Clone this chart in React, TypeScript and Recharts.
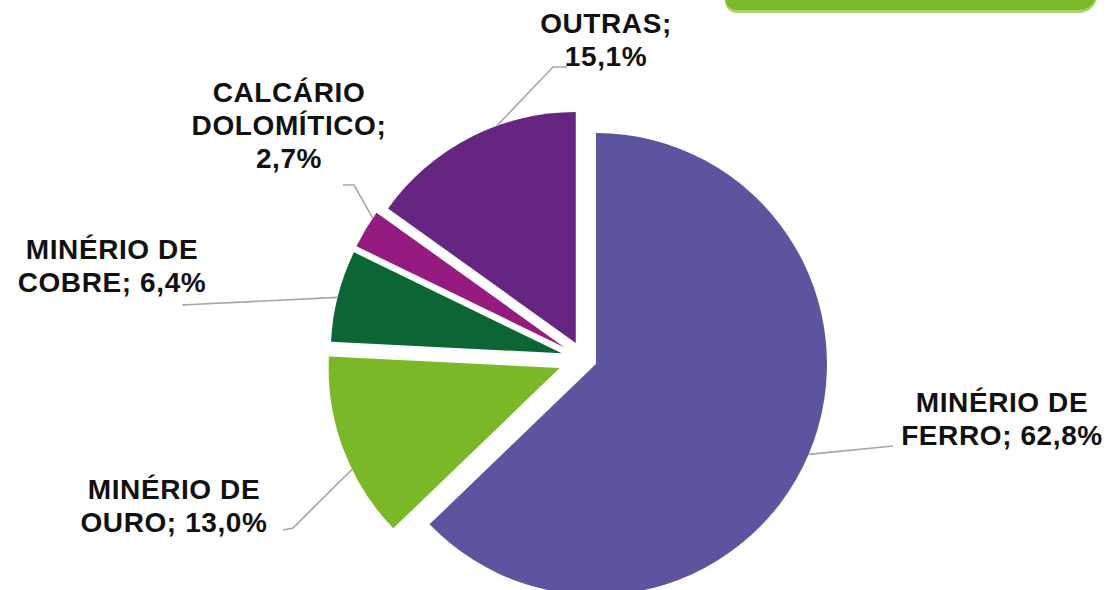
import React from 'react';
import { PieChart, Pie, Cell, Sector } from 'recharts';

// ---- data ----
const categories = ['MINÉRIO DE FERRO', 'MINÉRIO DE OURO', 'MINÉRIO DE COBRE', 'CALCÁRIO DOLOMÍTICO', 'OUTRAS'];
const shares = [62.8, 13.0, 6.4, 2.7, 15.1];
// label text lines ({v} is replaced by the formatted share)
const labelTexts = [
  ['MINÉRIO DE', 'FERRO; {v}'],
  ['MINÉRIO DE', 'OURO; {v}'],
  ['MINÉRIO DE', 'COBRE; {v}'],
  ['CALCÁRIO', 'DOLOMÍTICO;', '{v}'],
  ['OUTRAS;', '{v}'],
];

// ---- styles / layout ----
const colors = ['#5B55A0', '#7AB828', '#0B6535', '#951B81', '#652580'];
const explode = [13, 26, 23, 23, 18];
const leaderAngles = [-23, 206, 166, 146, 110];
// label layout: text center x, first baseline y, leader-line points after arc point
const labelLayout = [
  { x: 1002, y: 412, pts: [[893, 446]] },
  { x: 174, y: 499, pts: [[293, 528], [283, 530]] },
  { x: 112, y: 259, pts: [[182, 305]] },
  { x: 289, y: 102, pts: [[354, 185], [343, 185]] },
  { x: 606, y: 33, pts: [[553, 67], [567, 67]] },
];
const LINE_H = 33;

const data = categories.map((name, i) => ({ name, value: shares[i] }));
const fmt = (v: number) => v.toFixed(1).replace('.', ',') + '%';

const RAD = Math.PI / 180;

const renderLabel = (props: any) => {
  const { cx, cy, midAngle, outerRadius, startAngle, endAngle, index, value } = props;
  const e = explode[index];
  const ox = cx + e * Math.cos(-midAngle * RAD);
  const oy = cy + e * Math.sin(-midAngle * RAD);
  const la = leaderAngles[index];
  const sx = ox + outerRadius * Math.cos(-la * RAD);
  const sy = oy + outerRadius * Math.sin(-la * RAD);
  const lay = labelLayout[index];
  const points = [[sx, sy], ...lay.pts].map((p) => p.join(',')).join(' ');
  const lines = labelTexts[index].map((t) => t.replace('{v}', fmt(value)));
  return (
    <g key={`lbl-${index}`}>
      <Sector
        cx={ox}
        cy={oy}
        innerRadius={0}
        outerRadius={outerRadius}
        startAngle={startAngle}
        endAngle={endAngle}
        fill={colors[index]}
        stroke="none"
      />
      <polyline points={points} fill="none" stroke="#A6A6A6" strokeWidth={1.6} />
      <text
        x={lay.x}
        y={lay.y}
        textAnchor="middle"
        fontFamily="'Liberation Sans', Arial, sans-serif"
        fontWeight="bold"
        fontSize={28}
        letterSpacing={0.6}
        fill="#111111"
      >
        {lines.map((l, i) => (
          <tspan key={i} x={lay.x} y={lay.y + i * LINE_H}>
            {l}
          </tspan>
        ))}
      </text>
    </g>
  );
};

export default function App() {
  return (
    <div style={{ position: 'absolute', left: 0, top: 0, width: 1107, height: 590, overflow: 'hidden', background: '#fff' }}>
      <div
        style={{
          position: 'absolute',
          left: 725,
          top: -20,
          width: 372,
          height: 30,
          background: '#7AB929',
          borderBottomLeftRadius: 12,
          borderBottomRightRadius: 18,
          boxShadow: '0 3px 0 #A9D46F',
        }}
      />
      <div style={{ position: 'absolute', left: 0, top: 0 }}>
        <PieChart width={1107} height={590} margin={{ top: 0, right: 0, bottom: 0, left: 0 }}>
          <Pie
            data={data}
            dataKey="value"
            nameKey="name"
            cx={584}
            cy={359}
            innerRadius={0}
            outerRadius={231}
            startAngle={90}
            endAngle={-270}
            stroke="none"
            isAnimationActive={false}
            label={renderLabel}
            labelLine={false}
          >
            {data.map((d, i) => (
              <Cell key={i} fill="transparent" stroke="none" />
            ))}
          </Pie>
        </PieChart>
      </div>
    </div>
  );
}
